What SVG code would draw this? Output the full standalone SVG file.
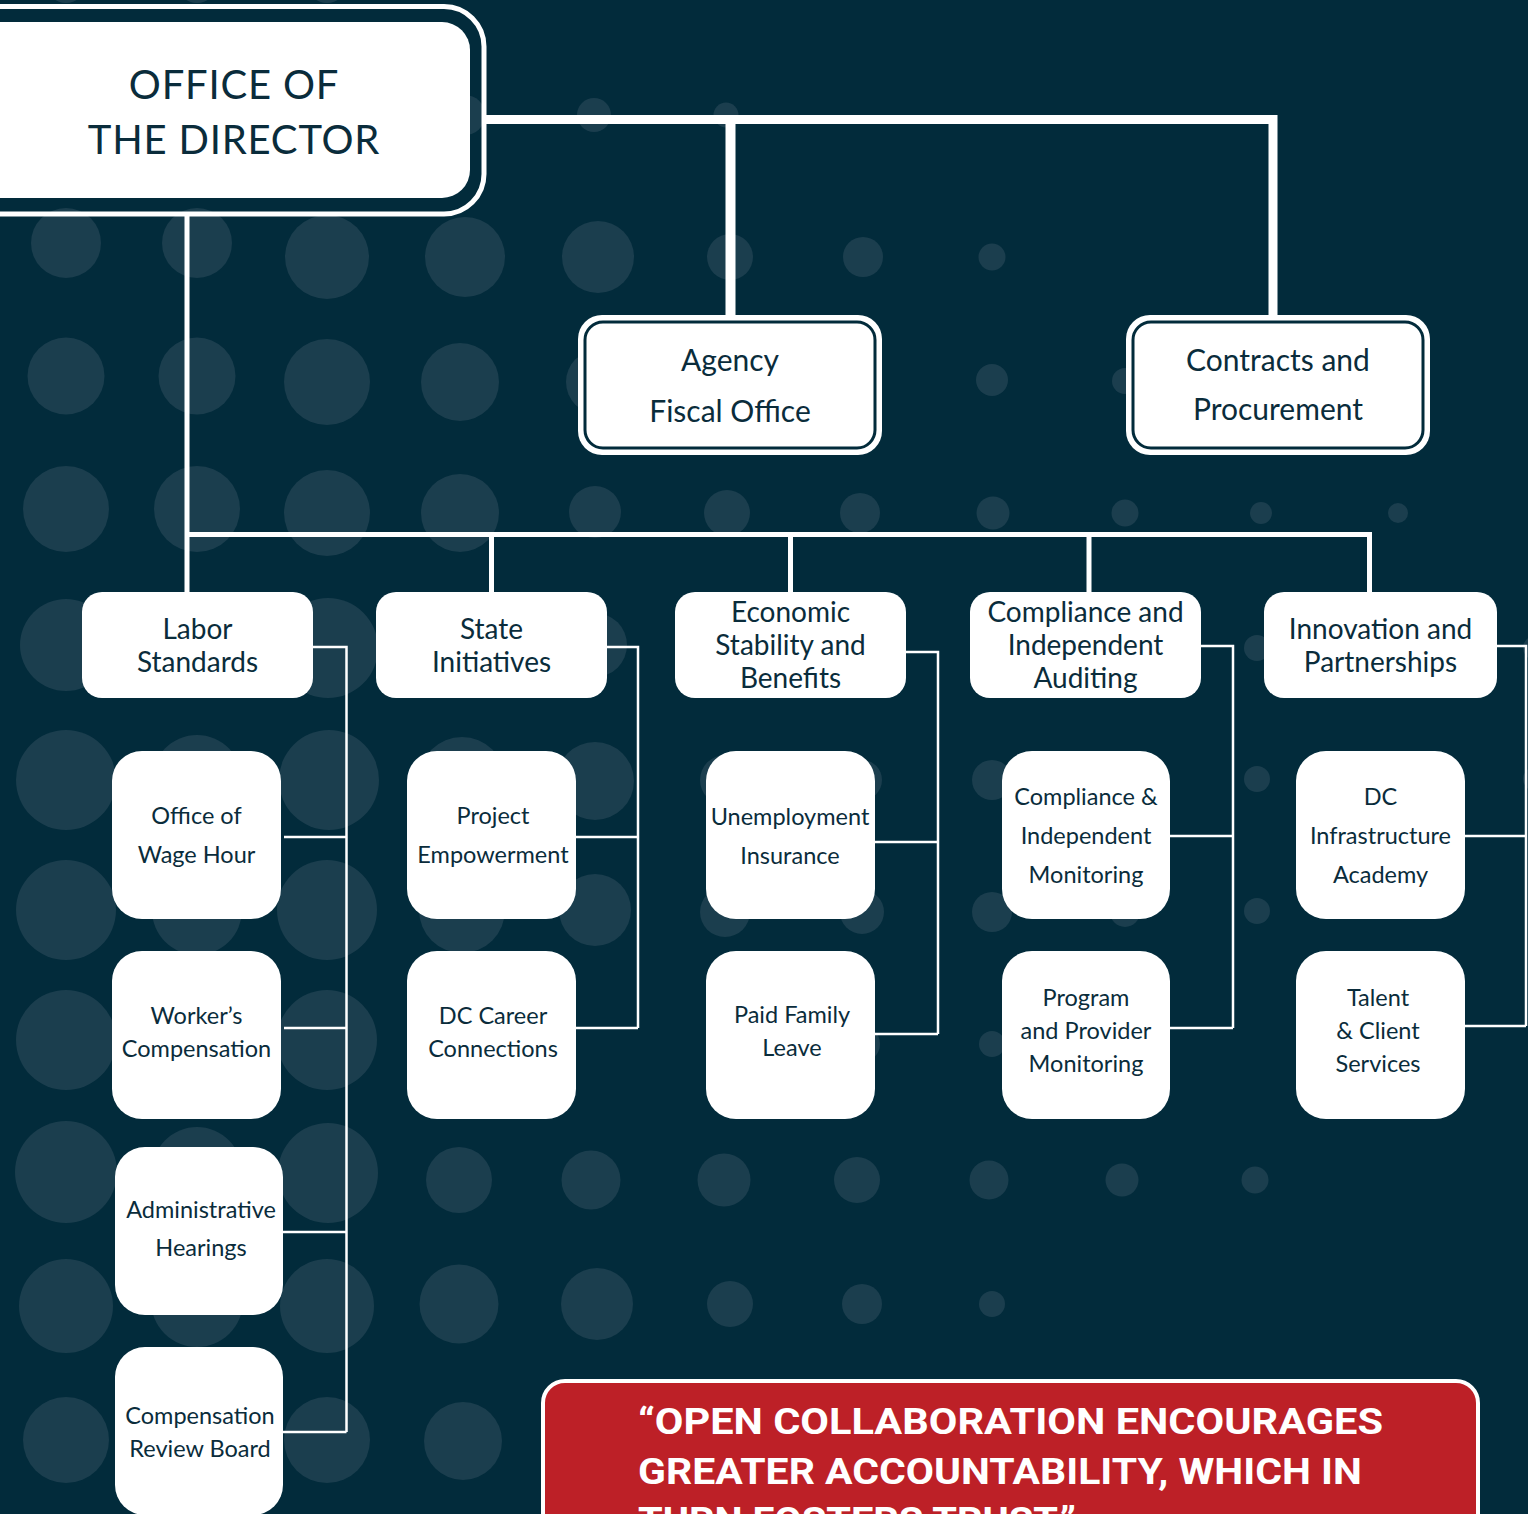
<svg xmlns="http://www.w3.org/2000/svg" width="1528" height="1514" viewBox="0 0 1528 1514">
<defs>
<style>
.dot{fill:#1b3e4e}
.lvl2{fill:#fff}
.lvl3{fill:#fff}
.tx{font-family:Lato,"Open Sans","Liberation Sans",sans-serif;fill:#0a2c3b;text-anchor:middle}
.t1{font-size:40px;letter-spacing:0.8px}
.t2{font-size:28px}
.t2b{font-size:30px}
.t3{font-size:23.5px}
.conn{fill:none;stroke:#fff}
.thick{stroke-width:9}
.mid{stroke-width:5}
.thin{stroke-width:2.5}
.quote{font-family:Roboto,"Liberation Sans",sans-serif;font-weight:700;font-size:36px;fill:#fff}
</style>
</defs>
<rect x="0" y="0" width="1528" height="1514" fill="#022b3b"/>
<g id="dots">
<circle class="dot" cx="66" cy="-17" r="20"/><circle class="dot" cx="197" cy="-17" r="20"/><circle class="dot" cx="327" cy="-17" r="20"/>
<circle class="dot" cx="465" cy="115" r="20"/><circle class="dot" cx="594" cy="115" r="17"/><circle class="dot" cx="726" cy="115" r="12.5"/>
<circle class="dot" cx="66" cy="243" r="35"/><circle class="dot" cx="197" cy="243" r="35"/><circle class="dot" cx="327" cy="257" r="42"/><circle class="dot" cx="465" cy="257" r="40"/><circle class="dot" cx="598" cy="257" r="36"/><circle class="dot" cx="730" cy="257" r="23"/><circle class="dot" cx="863" cy="257" r="20"/><circle class="dot" cx="992" cy="257" r="13.5"/>
<circle class="dot" cx="66" cy="376" r="38.5"/><circle class="dot" cx="197" cy="376" r="38.5"/><circle class="dot" cx="327" cy="382" r="43"/><circle class="dot" cx="460" cy="382" r="39"/><circle class="dot" cx="598" cy="382" r="32"/><circle class="dot" cx="992" cy="380" r="16"/><circle class="dot" cx="1125" cy="381" r="13"/>
<circle class="dot" cx="66" cy="509" r="43"/><circle class="dot" cx="197" cy="509" r="43"/><circle class="dot" cx="327" cy="513" r="43"/><circle class="dot" cx="460" cy="513" r="39"/><circle class="dot" cx="595" cy="512" r="26"/><circle class="dot" cx="727" cy="513" r="23"/><circle class="dot" cx="860" cy="513" r="20"/><circle class="dot" cx="993" cy="513" r="16.5"/><circle class="dot" cx="1125" cy="513" r="13.5"/><circle class="dot" cx="1261" cy="513" r="11"/><circle class="dot" cx="1398" cy="513" r="10"/>
<circle class="dot" cx="66" cy="645" r="46"/><circle class="dot" cx="197" cy="645" r="45"/><circle class="dot" cx="328" cy="648" r="50"/><circle class="dot" cx="462" cy="645" r="43"/><circle class="dot" cx="595" cy="645" r="32"/><circle class="dot" cx="1257" cy="648" r="13"/><circle class="dot" cx="1535" cy="648" r="12"/>
<circle class="dot" cx="66" cy="780" r="50"/><circle class="dot" cx="197" cy="780" r="45"/><circle class="dot" cx="329" cy="780" r="50"/><circle class="dot" cx="462" cy="780" r="43"/><circle class="dot" cx="595" cy="781" r="39"/><circle class="dot" cx="725" cy="780" r="25"/><circle class="dot" cx="862" cy="780" r="20"/><circle class="dot" cx="992" cy="780" r="20"/><circle class="dot" cx="1257" cy="779" r="13"/><circle class="dot" cx="1535" cy="779" r="12"/>
<circle class="dot" cx="66" cy="910" r="50"/><circle class="dot" cx="197" cy="910" r="45"/><circle class="dot" cx="327" cy="910" r="50"/><circle class="dot" cx="462" cy="910" r="43"/><circle class="dot" cx="595" cy="910" r="36"/><circle class="dot" cx="725" cy="912" r="25"/><circle class="dot" cx="862" cy="912" r="22"/><circle class="dot" cx="992" cy="912" r="20"/><circle class="dot" cx="1125" cy="912" r="15"/><circle class="dot" cx="1257" cy="911" r="13"/>
<circle class="dot" cx="66" cy="1040" r="50"/><circle class="dot" cx="197" cy="1040" r="45"/><circle class="dot" cx="327" cy="1040" r="50"/><circle class="dot" cx="862" cy="1044" r="18"/><circle class="dot" cx="992" cy="1044" r="13"/>
<circle class="dot" cx="66" cy="1172" r="51"/><circle class="dot" cx="197" cy="1172" r="45"/><circle class="dot" cx="328" cy="1173" r="50"/><circle class="dot" cx="459" cy="1180" r="33"/><circle class="dot" cx="591" cy="1180" r="29.5"/><circle class="dot" cx="724" cy="1180" r="26.5"/><circle class="dot" cx="857" cy="1180" r="23"/><circle class="dot" cx="989" cy="1180" r="19.5"/><circle class="dot" cx="1122" cy="1180" r="16.5"/><circle class="dot" cx="1255" cy="1180" r="13.5"/>
<circle class="dot" cx="66" cy="1306" r="47"/><circle class="dot" cx="197" cy="1301" r="46"/><circle class="dot" cx="327" cy="1306" r="47"/><circle class="dot" cx="459" cy="1304" r="39.5"/><circle class="dot" cx="597" cy="1304" r="36"/><circle class="dot" cx="730" cy="1304" r="23"/><circle class="dot" cx="862" cy="1304" r="20"/><circle class="dot" cx="992" cy="1304" r="13"/>
<circle class="dot" cx="66" cy="1440" r="43"/><circle class="dot" cx="197" cy="1440" r="43"/><circle class="dot" cx="327" cy="1440" r="43"/><circle class="dot" cx="463" cy="1441" r="39"/>
</g>
<g id="connectors">
<path class="conn thick" d="M486 119.5 H1273 V318"/>
<path class="conn" stroke-width="10" d="M730.5 119.5 V318"/>
<path class="conn mid" d="M187 214 V592 M187 534.5 H1369.5 V592 M491.5 534.5 V592 M790.5 534.5 V592 M1089 534.5 V592"/>
<path class="conn thin" d="M313 647 H346.5 V1432 M284 837 H346.5 M284 1028 H346.5 M283 1232 H346.5 M283 1432 H346.5"/>
<path class="conn thin" d="M607 647 H638 V1028 M576 837 H638 M576 1028 H638"/>
<path class="conn thin" d="M906 652 H938 V1034 M874 842 H938 M874 1034 H938"/>
<path class="conn thin" d="M1201 646 H1233 V1028 M1170 836 H1233 M1170 1028 H1233"/>
<path class="conn thin" d="M1497 646 H1526 V1026 M1465 836 H1526 M1465 1026 H1526"/>
</g>
<g id="office-of-the-director">
<rect x="-60" y="6.5" width="544" height="207.5" rx="40" fill="none" stroke="#fff" stroke-width="5"/>
<rect x="-60" y="22" width="530" height="176" rx="28" fill="#fff"/>
<text class="tx t1" x="234" y="99">OFFICE OF</text>
<text class="tx t1" x="234" y="154">THE DIRECTOR</text>
</g>
<g id="agency-fiscal-office">
<rect x="578" y="315" width="304" height="140" rx="24" fill="#fff"/>
<rect x="585" y="322" width="290" height="126" rx="18" fill="#fff" stroke="#022b3b" stroke-width="3"/>
<text class="tx t2b" x="730" y="371">Agency</text>
<text class="tx t2b" x="730" y="422">Fiscal Office</text>
</g>
<g id="contracts-and-procurement">
<rect x="1126" y="315" width="304" height="140" rx="24" fill="#fff"/>
<rect x="1133" y="322" width="290" height="126" rx="18" fill="#fff" stroke="#022b3b" stroke-width="3"/>
<text class="tx t2b" x="1278" y="371">Contracts and</text>
<text class="tx t2b" x="1278" y="420">Procurement</text>
</g>
<g id="labor-standards">
<rect class="lvl2" x="82" y="592" width="231" height="106" rx="20"/>
<text class="tx t2" x="197.5" y="639">Labor</text>
<text class="tx t2" x="197.5" y="672">Standards</text>
</g>
<g id="state-initiatives">
<rect class="lvl2" x="376" y="592" width="231" height="106" rx="20"/>
<text class="tx t2" x="491.5" y="639">State</text>
<text class="tx t2" x="491.5" y="672">Initiatives</text>
</g>
<g id="economic-stability">
<rect class="lvl2" x="675" y="592" width="231" height="106" rx="20"/>
<text class="tx t2" x="790.5" y="622">Economic</text>
<text class="tx t2" x="790.5" y="655">Stability and</text>
<text class="tx t2" x="790.5" y="688">Benefits</text>
</g>
<g id="compliance-auditing">
<rect class="lvl2" x="970" y="592" width="231" height="106" rx="20"/>
<text class="tx t2" x="1085.5" y="622">Compliance and</text>
<text class="tx t2" x="1085.5" y="655">Independent</text>
<text class="tx t2" x="1085.5" y="688">Auditing</text>
</g>
<g id="innovation-partnerships">
<rect class="lvl2" x="1264" y="592" width="233" height="106" rx="20"/>
<text class="tx t2" x="1380.5" y="639">Innovation and</text>
<text class="tx t2" x="1380.5" y="672">Partnerships</text>
</g>
<g id="office-of-wage-hour">
<rect class="lvl3" x="112" y="751" width="169" height="168" rx="30"/>
<text class="tx t3" x="196.5" y="824">Office of</text>
<text class="tx t3" x="196.5" y="863">Wage Hour</text>
</g>
<g id="workers-compensation">
<rect class="lvl3" x="112" y="951" width="169" height="168" rx="30"/>
<text class="tx t3" x="196.5" y="1024">Worker’s</text>
<text class="tx t3" x="196.5" y="1057">Compensation</text>
</g>
<g id="administrative-hearings">
<rect class="lvl3" x="115" y="1147" width="168" height="168" rx="30"/>
<text class="tx t3" x="201" y="1218">Administrative</text>
<text class="tx t3" x="201" y="1256">Hearings</text>
</g>
<g id="compensation-review-board">
<rect class="lvl3" x="115" y="1347" width="168" height="168" rx="30"/>
<text class="tx t3" x="200" y="1424">Compensation</text>
<text class="tx t3" x="200" y="1457">Review Board</text>
</g>
<g id="project-empowerment">
<rect class="lvl3" x="407" y="751" width="169" height="168" rx="30"/>
<text class="tx t3" x="493" y="824">Project</text>
<text class="tx t3" x="493" y="863">Empowerment</text>
</g>
<g id="dc-career-connections">
<rect class="lvl3" x="407" y="951" width="169" height="168" rx="30"/>
<text class="tx t3" x="493" y="1024">DC Career</text>
<text class="tx t3" x="493" y="1057">Connections</text>
</g>
<g id="unemployment-insurance">
<rect class="lvl3" x="706" y="751" width="169" height="168" rx="30"/>
<text class="tx t3" x="790" y="825">Unemployment</text>
<text class="tx t3" x="790" y="864">Insurance</text>
</g>
<g id="paid-family-leave">
<rect class="lvl3" x="706" y="951" width="169" height="168" rx="30"/>
<text class="tx t3" x="792" y="1023">Paid Family</text>
<text class="tx t3" x="792" y="1056">Leave</text>
</g>
<g id="compliance-monitoring">
<rect class="lvl3" x="1002" y="751" width="168" height="168" rx="30"/>
<text class="tx t3" x="1086" y="805">Compliance &amp;</text>
<text class="tx t3" x="1086" y="844">Independent</text>
<text class="tx t3" x="1086" y="883">Monitoring</text>
</g>
<g id="program-provider-monitoring">
<rect class="lvl3" x="1002" y="951" width="168" height="168" rx="30"/>
<text class="tx t3" x="1086" y="1006">Program</text>
<text class="tx t3" x="1086" y="1039">and Provider</text>
<text class="tx t3" x="1086" y="1072">Monitoring</text>
</g>
<g id="dc-infrastructure-academy">
<rect class="lvl3" x="1296" y="751" width="169" height="168" rx="30"/>
<text class="tx t3" x="1380.5" y="805">DC</text>
<text class="tx t3" x="1380.5" y="844">Infrastructure</text>
<text class="tx t3" x="1380.5" y="883">Academy</text>
</g>
<g id="talent-client-services">
<rect class="lvl3" x="1296" y="951" width="169" height="168" rx="30"/>
<text class="tx t3" x="1378" y="1006">Talent</text>
<text class="tx t3" x="1378" y="1039">&amp; Client</text>
<text class="tx t3" x="1378" y="1072">Services</text>
</g>
<g id="quote">
<rect x="543" y="1381" width="935" height="160" rx="22" fill="#bd2027" stroke="#fff" stroke-width="4"/>
<text class="quote" x="638" y="1434" textLength="745" lengthAdjust="spacingAndGlyphs">“OPEN COLLABORATION ENCOURAGES</text>
<text class="quote" x="638" y="1484" textLength="724" lengthAdjust="spacingAndGlyphs">GREATER ACCOUNTABILITY, WHICH IN</text>
<text class="quote" x="638" y="1533" textLength="438" lengthAdjust="spacingAndGlyphs">TURN FOSTERS TRUST.”</text>
</g>
</svg>
